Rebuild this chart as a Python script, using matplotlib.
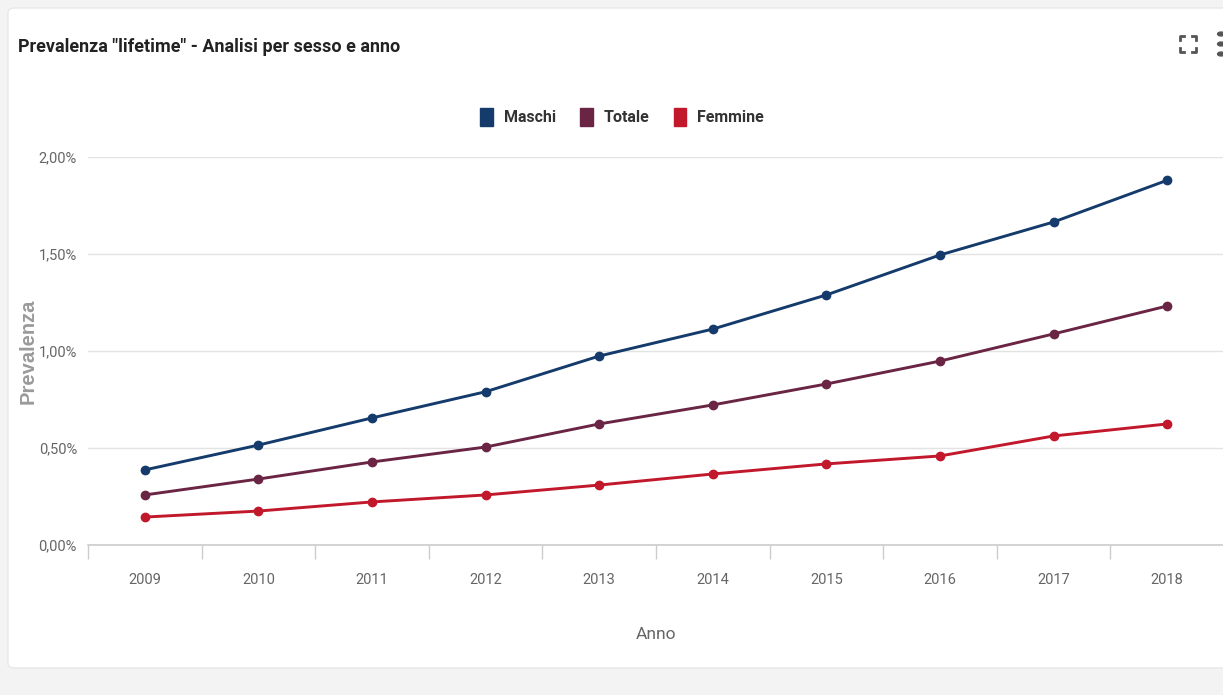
import matplotlib.pyplot as plt
from matplotlib.patches import FancyBboxPatch
from matplotlib.ticker import FuncFormatter, FixedLocator
from matplotlib.lines import Line2D
import numpy as np

# data
anni = ['2009', '2010', '2011', '2012', '2013', '2014', '2015', '2016', '2017', '2018']
maschi = [0.387, 0.515, 0.655, 0.790, 0.974, 1.113, 1.289, 1.495, 1.665, 1.880]
totale = [0.258, 0.340, 0.428, 0.505, 0.624, 0.722, 0.830, 0.948, 1.088, 1.232]
femmine = [0.144, 0.175, 0.222, 0.258, 0.309, 0.366, 0.418, 0.459, 0.562, 0.624]

serie = ['Maschi', 'Totale', 'Femmine']
colori = ['#143b6b', '#6a2544', '#c1182b']

narrow = ['Roboto', 'DejaVu Sans']

fig = plt.figure(figsize=(12.23, 6.95), dpi=100)
fig.patch.set_facecolor('#f3f3f3')

# white card behind everything
card = FancyBboxPatch((8 / 1223, 27 / 695), 1300 / 1223, 660 / 695,
                      boxstyle='round,pad=0,rounding_size=0.006',
                      transform=fig.transFigure, facecolor='white',
                      edgecolor='#e8e8e8', linewidth=1, zorder=-5)
fig.patches.append(card)

ax = fig.add_axes([88 / 1223, 1 - 545 / 695, 1136 / 1223, 388 / 695])
ax.set_facecolor('none')

x = np.arange(len(anni))
for vals, nome, col in zip([maschi, totale, femmine], serie, colori):
    ax.plot(x, vals, color=col, lw=2.1, marker='o', ms=6, label=nome,
            solid_capstyle='round', zorder=3, clip_on=False)

ax.set_xlim(-0.5, len(anni) - 0.5)
ax.set_ylim(0, 2.0)
ax.set_yticks([0, 0.5, 1.0, 1.5, 2.0])
ax.yaxis.set_major_formatter(FuncFormatter(lambda v, p: f'{v:.2f}'.replace('.', ',') + '%'))
ax.grid(axis='y', color='#e3e3e3', lw=1)
ax.set_axisbelow(True)

ax.set_xticks(x)
ax.set_xticklabels(anni)
ax.xaxis.set_minor_locator(FixedLocator(np.arange(-0.5, len(anni), 1.0)))
ax.tick_params(axis='x', which='major', length=0, pad=20, labelsize=10.5, labelcolor='#666666')
ax.tick_params(axis='x', which='minor', length=10, color='#cccccc', width=1)
ax.tick_params(axis='y', length=0, pad=8, labelsize=10.5, labelcolor='#666666')
for lab in ax.get_xticklabels() + ax.get_yticklabels():
    lab.set_family(narrow)

for s in ['top', 'right', 'left']:
    ax.spines[s].set_visible(False)
ax.spines['bottom'].set_color('#cccccc')
ax.spines['bottom'].set_linewidth(1.2)

ax.set_xlabel('Anno', family=narrow, fontsize=12.5, color='#666666', labelpad=29)
ax.set_ylabel('Prevalenza', family=['Liberation Sans', 'DejaVu Sans'], fontsize=14.5,
              fontweight='bold', color='#9a9a9a', labelpad=1)

fig.text(18 / 1223, 1 - 47 / 695, 'Prevalenza "lifetime" - Analisi per sesso e anno',
         family=narrow, fontsize=13, fontweight='bold', color='#222222', va='center')

leg = fig.legend(loc='center', bbox_to_anchor=(622 / 1223, 1 - 117 / 695), ncol=3,
                 frameon=False, handlelength=0.8, handleheight=1.3, handletextpad=0.7,
                 columnspacing=1.5,
                 handles=[plt.Rectangle((0, 0), 1, 1, color=c) for c in colori],
                 labels=serie, prop={'family': narrow, 'weight': 'bold', 'size': 11.5})
for t in leg.get_texts():
    t.set_color('#333333')

# fullscreen icon (four corner brackets) and menu dots at top right
cx, cy, h, a = 1188, 44, 8, 4
for sx in (-1, 1):
    for sy in (-1, 1):
        px = [cx + sx * h, cx + sx * h, cx + sx * (h - a)]
        py = [cy + sy * (h - a), cy + sy * h, cy + sy * h]
        fig.add_artist(Line2D([p / 1223 for p in px], [1 - p / 695 for p in py],
                              transform=fig.transFigure, color='#555555', lw=2))
for dy in [34, 44, 54]:
    fig.patches.append(plt.Circle((1221 / 1223, 1 - dy / 695), 0.0028,
                                  transform=fig.transFigure, color='#555555'))

fig.savefig('out.png', dpi=100, facecolor=fig.get_facecolor())
